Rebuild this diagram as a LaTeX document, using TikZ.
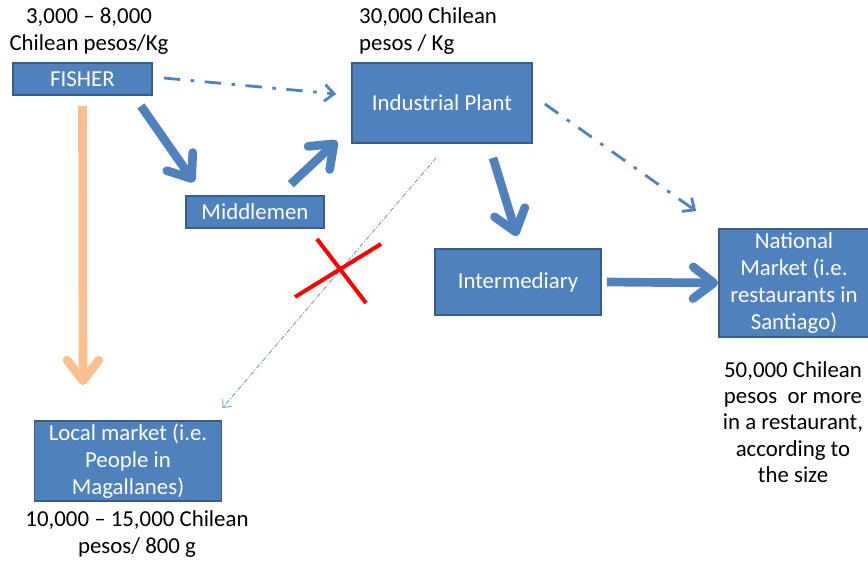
\documentclass[tikz,border=0pt]{standalone}
\usepackage{fontspec}
\setmainfont{Carlito}
\usepackage{xcolor}
\definecolor{ChainBlue}{RGB}{79, 129, 189}
\definecolor{ChainEdge}{RGB}{56, 93, 138}
\definecolor{LightBlue}{RGB}{120, 160, 215}
\definecolor{LocalOrange}{RGB}{250, 192, 144}
\usepackage{tikz}
\usetikzlibrary{arrows.meta, positioning}

\begin{document}
\begin{tikzpicture}[
        x=0.03cm, y=-0.03cm,
        box/.style={rectangle, draw=ChainEdge, line width=1.5pt, fill=ChainBlue, text=white, align=center, inner sep=0pt, font=\fontsize{19.5}{22.8}\selectfont},
        price/.style={align=center, inner sep=0pt, font=\fontsize{19.5}{22.5}\selectfont},
        flow/.style={-{Straight Barb[length=0.62cm, width=0.95cm, round]}, line width=0.26cm, ChainBlue},
        sale/.style={-{Straight Barb[length=0.28cm, width=0.5cm]}, line width=2.4pt, ChainBlue, dash pattern=on 14pt off 9pt on 3pt off 9pt},
        lost/.style={-{Straight Barb[length=0.2cm, width=0.35cm]}, line width=0.8pt, LightBlue, dash pattern=on 4pt off 1.5pt on 1pt off 1.5pt}
    ]
        \useasboundingbox (0,0) rectangle (868,562);

        % Nodes
        \node[box, minimum width=139*0.03cm, minimum height=32*0.03cm] (fisher) at (82.5,79) {FISHER};
        \node[box, minimum width=180*0.03cm, minimum height=80*0.03cm] (plant) at (442,103) {Industrial Plant};
        \node[box, minimum width=138*0.03cm, minimum height=32*0.03cm] (middle) at (255,212) {Middlemen};
        \node[box, minimum width=166*0.03cm, minimum height=66*0.03cm] (inter) at (518,282) {Intermediary};
        \node[box, minimum width=150*0.03cm, minimum height=108*0.03cm] (national) at (794,283) {National\\Market (i.e.\\restaurants in\\Santiago)};
        \node[box, minimum width=187*0.03cm, minimum height=80*0.03cm] (local) at (128,461) {Local market (i.e.\\People in\\Magallanes)};

        % Prices
        \node[price] (fisherprice) at (89,31) {3,000 – 8,000\\Chilean pesos/Kg};
        \node[price, anchor=west, align=left] (plantprice) at (359,31) {30,000 Chilean\\pesos / Kg};
        \node[price] (nationalprice) at (793,422) {50,000 Chilean\\pesos~ or more\\in a restaurant,\\according to\\the size};
        \node[price] (localprice) at (137,534) {10,000 – 15,000 Chilean\\pesos/ 800 g};

        % Arrows
        \draw[flow] ([shift={(-12,10)}]fisher.south east) -- ([shift={(9,-13)}]middle.north west);
        \draw[flow] ([shift={(-34,-11)}]middle.north east) -- ([shift={(-14,-3)}]plant.south west);
        \draw[flow] ([shift={(51,14)}]plant.south) -- ([shift={(-1,-12)}]inter.north);
        \draw[flow] ([shift={(5,0)}]inter.east) -- (national.west);
        \draw[flow, LocalOrange] ([shift={(0,10)}]fisher.south) -- ([shift={(-45,-35)}]local.north);
        \draw[sale] ([shift={(11,-1)}]fisher.east) -- ([shift={(-15,-9)}]plant.west);
        \draw[sale] ([shift={(12,1)}]plant.east) -- ([shift={(-22,-17)}]national.north west);
        \draw[lost] ([shift={(-6,14)}]plant.south) -- ([shift={(0,-12)}]local.north east);

        % Cross
        \draw[red, line width=3.4pt] (317,239) -- (366,303);
        \draw[red, line width=3.4pt] (295,297) -- (381,244);
    \end{tikzpicture}
\end{document}
